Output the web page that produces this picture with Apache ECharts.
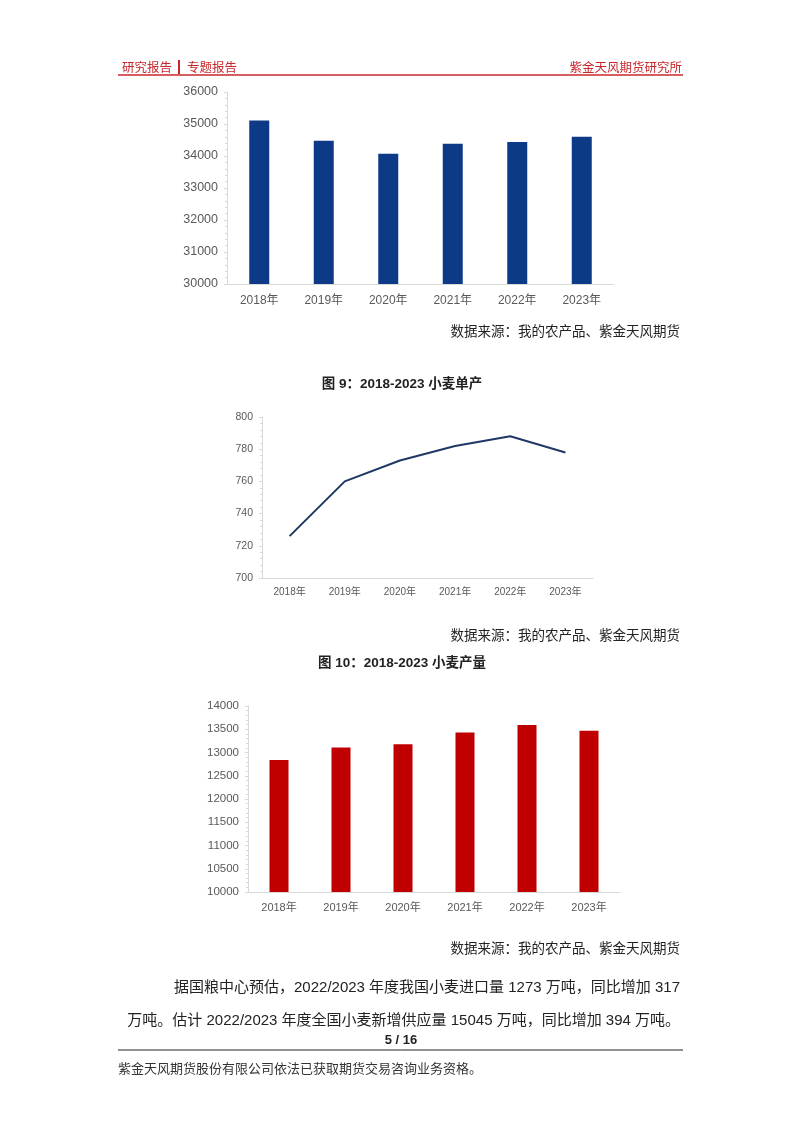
<!DOCTYPE html>
<html>
<head>
<meta charset="utf-8">
<script src="https://cdn.jsdelivr.net/npm/echarts@6/dist/echarts.min.js"></script>
<style>
html,body{margin:0;padding:0;background:#fff;}
#page{width:802px;height:1133px;}
</style>
</head>
<body>
<div id="page"></div>
<script>
// ---- data ----
const years = ['2018年', '2019年', '2020年', '2021年', '2022年', '2023年'];
const areaValues = [35110, 34480, 34070, 34380, 34440, 34600];      // chart 1 (area)
const yieldValues = [726, 760, 773, 782, 788, 778];                  // 图9 单产
const outputValues = [12840, 13110, 13175, 13430, 13590, 13470];     // 图10 产量
const areaTicks = {min: 30000, max: 36000, interval: 1000};
const yieldTicks = {min: 700, max: 800, interval: 20};
const outputTicks = {min: 10000, max: 14000, interval: 500};

const headerLeft = '研究报告';
const headerMid = '专题报告';
const headerRight = '紫金天风期货研究所';
const sourceText = '数据来源：我的农产品、紫金天风期货';
const title9 = '图 9：2018-2023 小麦单产';
const title10 = '图 10：2018-2023 小麦产量';
const para1 = '据国粮中心预估，2022/2023 年度我国小麦进口量 1273 万吨，同比增加 317';
const para2 = '万吨。估计 2022/2023 年度全国小麦新增供应量 15045 万吨，同比增加 394 万吨。';
const pageNo = '5 / 16';
const footer = '紫金天风期货股份有限公司依法已获取期货交易咨询业务资格。';

const FONT = '"Liberation Sans", "Noto Sans CJK SC", sans-serif';
const CJK = '"Noto Sans CJK SC", sans-serif';
const RED = '#c8282d';
const AXIS = '#d9d9d9';
const LABEL = '#595959';

function yAxis(t, fs) {
  return {
    type: 'value', min: t.min, max: t.max, interval: t.interval,
    axisLine: {show: true, lineStyle: {color: AXIS}},
    axisTick: {show: true, length: 3, lineStyle: {color: AXIS}},
    minorTick: {show: true, splitNumber: 5, length: 2, lineStyle: {color: AXIS}},
    splitLine: {show: false},
    axisLabel: {color: LABEL, fontSize: fs, fontFamily: FONT, margin: 9,
                formatter: function (v) { return String(v); }}
  };
}
function xAxis(gi, fs, margin) {
  return {
    type: 'category', data: years, gridIndex: gi,
    axisLine: {show: true, lineStyle: {color: AXIS}},
    axisTick: {show: false},
    axisLabel: {color: LABEL, fontSize: fs, fontFamily: FONT, margin: margin}
  };
}

const chart = echarts.init(document.getElementById('page'), null, {renderer: 'canvas'});

const txt = (x, y, text, opts) => Object.assign({
  type: 'text', x: x, y: y,
  style: Object.assign({text: text, fill: '#222', font: '14px ' + CJK, textVerticalAlign: 'middle'}, opts || {})
});

chart.setOption({
  animation: false,
  grid: [
    {left: 227, top: 92, width: 387, height: 192},
    {left: 262, top: 417, width: 331, height: 161},
    {left: 248, top: 706, width: 372, height: 186}
  ],
  xAxis: [xAxis(0, 12, 11), xAxis(1, 10, 9), xAxis(2, 11, 10)],
  yAxis: [
    Object.assign(yAxis(areaTicks, 12.5), {gridIndex: 0}),
    Object.assign(yAxis(yieldTicks, 10.5), {gridIndex: 1}),
    Object.assign(yAxis(outputTicks, 11.5), {gridIndex: 2})
  ],
  series: [
    {type: 'bar', xAxisIndex: 0, yAxisIndex: 0, data: areaValues, barWidth: 20,
     itemStyle: {color: '#0d3a87'}},
    {type: 'line', xAxisIndex: 1, yAxisIndex: 1, data: yieldValues, showSymbol: false,
     lineStyle: {color: '#1f3864', width: 2}},
    {type: 'bar', xAxisIndex: 2, yAxisIndex: 2, data: outputValues, barWidth: 19,
     itemStyle: {color: '#c00000'}}
  ],
  graphic: [
    // header
    txt(122, 67, headerLeft, {fill: RED, font: '12.5px ' + CJK}),
    {type: 'rect', shape: {x: 178, y: 60, width: 2, height: 14}, style: {fill: RED}},
    txt(187, 67, headerMid, {fill: RED, font: '12.5px ' + CJK}),
    txt(682, 67, headerRight, {fill: RED, font: '12.5px ' + CJK, textAlign: 'right'}),
    {type: 'line', shape: {x1: 118, y1: 75, x2: 683, y2: 75}, style: {stroke: RED, lineWidth: 1.5}},
    // sources
    txt(680, 331, sourceText, {textAlign: 'right', font: '13.5px ' + CJK}),
    txt(680, 635, sourceText, {textAlign: 'right', font: '13.5px ' + CJK}),
    txt(680, 948, sourceText, {textAlign: 'right', font: '13.5px ' + CJK}),
    // titles
    txt(402, 384, title9, {textAlign: 'center', font: 'bold 13.5px ' + FONT}),
    txt(402, 663, title10, {textAlign: 'center', font: 'bold 13.5px ' + FONT}),
    // paragraph
    txt(680, 988, para1, {textAlign: 'right', font: '15px ' + FONT}),
    txt(680, 1021, para2, {textAlign: 'right', font: '15px ' + FONT}),
    txt(401, 1040, pageNo, {textAlign: 'center', font: 'bold 13px ' + FONT}),
    {type: 'line', shape: {x1: 118, y1: 1050, x2: 683, y2: 1050}, style: {stroke: '#222', lineWidth: 1}},
    txt(118, 1068, footer, {font: '13px ' + CJK, fill: '#333'})
  ]
});
</script>
</body>
</html>
